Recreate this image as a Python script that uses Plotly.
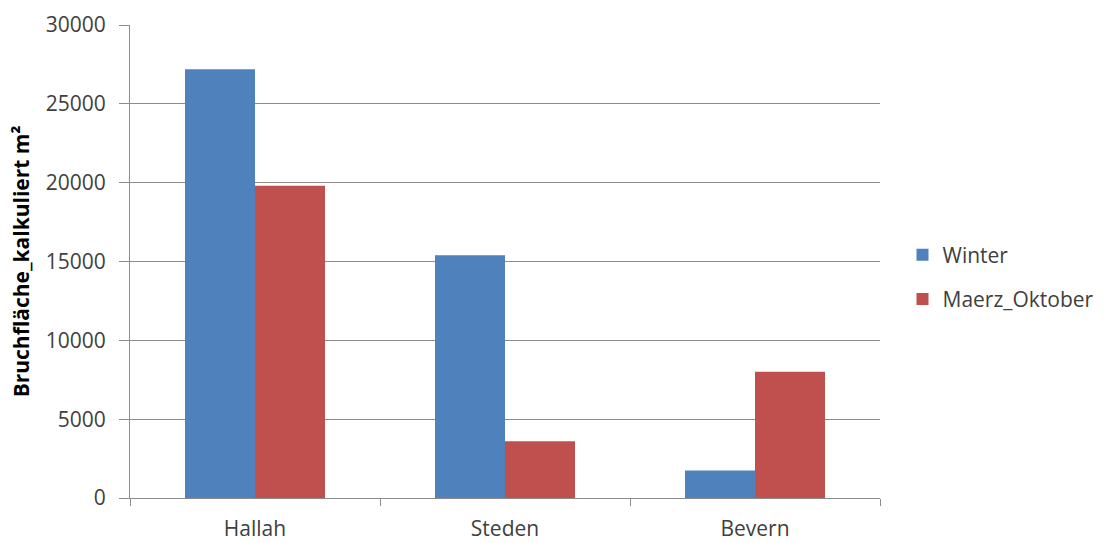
import plotly.graph_objects as go

# Calculated fracture area per site
sites = ["Hallah", "Steden", "Bevern"]
winter = [27200, 15400, 1750]
maerz_oktober = [19800, 3600, 8000]

series_names = ["Winter", "Maerz_Oktober"]
colors = ["#4F81BD", "#C0504D"]

y_ticks = [0, 5000, 10000, 15000, 20000, 25000, 30000]

FONT = "Open Sans, DejaVu Sans, sans-serif"
TEXT = "#404040"
GRID = "#8C8C8C"

fig = go.Figure()
for name, vals, col in zip(series_names, [winter, maerz_oktober], colors):
    fig.add_trace(go.Bar(
        x=sites, y=vals, name=name, marker_color=col,
        marker_line_width=0, legendgroup=name,
    ))

fig.update_layout(
    width=1105, height=543,
    margin=dict(l=130, r=225, t=25, b=45, autoexpand=False),
    paper_bgcolor="white", plot_bgcolor="white",
    barmode="group", bargap=0.44, bargroupgap=0,
    font=dict(family=FONT, color=TEXT, size=21),
    showlegend=True,
    legend=dict(
        x=1.03, xanchor="left", y=0.467, yanchor="middle",
        font=dict(family=FONT, size=21, color=TEXT),
        tracegroupgap=14, traceorder="grouped",
        itemwidth=30, bgcolor="rgba(0,0,0,0)",
    ),
)

fig.update_xaxes(
    type="category", range=[-0.5, 2.5],
    showline=True, linecolor=GRID, linewidth=1,
    ticks="outside", tickson="boundaries", ticklen=7, tickcolor=GRID,
    tickfont=dict(family=FONT, size=21, color=TEXT),
    ticklabelstandoff=12,
    showgrid=False, zeroline=False,
)

fig.update_yaxes(
    range=[0, 30000], tickvals=y_ticks, ticktext=[str(v) for v in y_ticks],
    showline=True, linecolor=GRID, linewidth=1,
    ticks="outside", ticklen=10, tickcolor=GRID,
    ticklabelstandoff=9,
    showgrid=True, gridcolor=GRID, gridwidth=1, zeroline=False,
    tickfont=dict(family=FONT, size=21, color=TEXT),
    title=dict(text="<b>Bruchfläche_kalkuliert m²</b>",
               font=dict(family=FONT, size=21, color="black"), standoff=10),
)

fig.write_html("out.html")
